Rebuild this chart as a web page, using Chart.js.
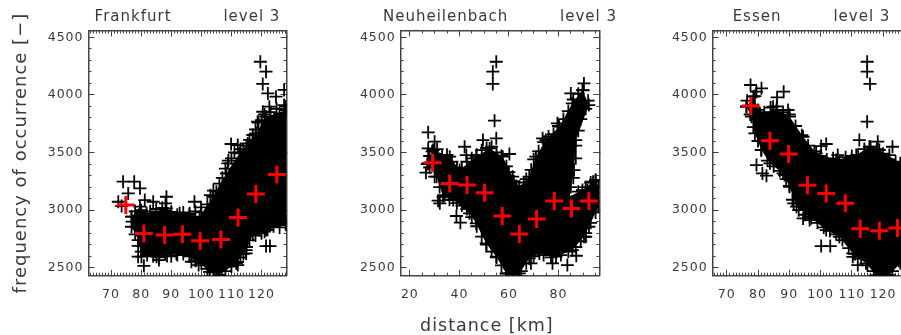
<!DOCTYPE html>
<html>
<head>
<meta charset="utf-8">
<title>level 3</title>
<script src="https://cdn.jsdelivr.net/npm/chart.js@4"></script>
<style>
html, body { margin: 0; padding: 0; background: #fff; overflow: hidden; width: 901px; height: 335px; }
canvas { position: absolute; top: 0; }
</style>
</head>
<body>
<canvas id="c1"></canvas>
<canvas id="c2"></canvas>
<canvas id="c3"></canvas>
<script>
// [distance km, frequency]
const frankfurtMeans = [[74.9,3044],[80.9,2798],[87.8,2784],[93.7,2790],[99.6,2735],[106.5,2746],[112.2,2937],[118.1,3140],[125.1,3310]];
const neuheilenbachMeans = [[29.2,3412],[36.1,3232],[43.1,3218],[50.2,3151],[57.3,2949],[64.2,2792],[71.2,2923],[78.3,3079],[85.2,3015],[92.3,3079]];
const essenMeans = [[77.7,3904],[83.8,3603],[89.8,3487],[95.8,3215],[101.8,3145],[107.9,3059],[112.7,2839],[118.8,2821],[124.6,2844]];

// edge of the solid black cloud
const frankfurtCloud = [[76.8,2943],[79.6,3030],[81.8,2972],[88.4,3015],[92.8,2972],[99.4,2943],[103.8,3116],[108.3,3319],[112.7,3493],[118.2,3666],[121.5,3811],[128.3,3869],[128.3,2870],[121.5,2827],[117.1,2784],[114.9,2653],[111.6,2538],[106.0,2436],[102.7,2465],[98.3,2567],[91.7,2624],[85.1,2596],[80.1,2596],[79.0,2740],[76.8,2856],[76.8,2943]];
const neuheilenbachCloud = [[27.4,3406],[29.4,3522],[36.1,3464],[40.1,3348],[46.8,3464],[52.2,3536],[57.5,3464],[61.5,3290],[64.2,3203],[68.2,3290],[70.9,3464],[74.9,3608],[80.3,3724],[85.6,3927],[89.7,4042],[92.3,3912],[87,3608],[86.3,3348],[84.3,3116],[89.7,3174],[95,3261],[96.1,3203],[96.1,3030],[92.3,2856],[90.3,2769],[85.6,2653],[79,2596],[72.3,2624],[68.2,2581],[64.2,2451],[58.9,2451],[54.9,2596],[50.8,2711],[46.8,2885],[44.1,2972],[37.5,3087],[33.4,3116],[30.8,3290],[27.4,3406]];
const essenCloud = [[76.3,3898],[78.5,3985],[80.6,3840],[85.9,3869],[90.1,3811],[94.4,3637],[98.6,3493],[105,3435],[111.4,3478],[115.6,3550],[118.8,3522],[125.5,3406],[128.7,3350],[128.7,2700],[125.5,2538],[122,2436],[117.7,2436],[114.5,2538],[110.3,2624],[106,2769],[101.8,2827],[96.5,2943],[92.3,3030],[90.1,3203],[88,3319],[83.8,3406],[81.1,3522],[79,3666],[77.9,3811],[76.3,3898]];

// single crosses, outliers first and then the ones along the cloud's rough edge
const frankfurtPoints = [[74,3247],[77.7,3247],[79.6,3189],[75.7,3145],[72.4,3073],[73.5,3035],[81.2,3087],[84,3073],[88.4,3116],[88.1,3058],[97.7,3073],[99.9,3024],[96.1,2972],[79,2596],[80.9,2517],[85.9,2567],[88.6,2601],[96.7,2552],[99.1,2523],[112.1,2523],[109.9,3574],[112.1,3565],[108.8,3406],[119.6,4288],[121.5,4202],[120.4,4095],[122.1,4013],[124.8,3985],[127.5,4043],[127.5,3912],[122.6,3898],[120.4,3854],[118.7,3767],[117.1,3652],[115.4,3579],[122.8,2688],[121.5,2688],[121,2813],[119.3,2827],[114.9,2624],
    [78,2990],[80,3000],[83,2990],[85,3010],[87,3020],[90,2985],[92,2960],[94,2980],[96,2960],[98,2990],[100,2980],[102,3050],[103,3130],[104,3170],[105,3160],[106,3230],[107,3280],[108,3360],[109,3430],[110,3450],[111,3500],[113,3530],[114,3510],[115,3560],[116,3610],[117,3600],[118,3700],[119,3760],[120,3780],[121,3830],[123,3850],[125,3880],[126,3840],[128,3900],
    [128,2880],[126,2850],[124,2860],[122,2830],[120,2800],[118,2780],[116,2740],[115,2680],[114,2620],[113,2590],[112,2550],[110,2510],[108,2470],[106,2440],[104,2460],[102,2490],[100,2540],[98,2560],[96,2600],[94,2620],[92,2610],[90,2600],[88,2620],[86,2590],[84,2600],[82,2610],[80,2640],[79,2690],[78,2790],[77,2900]];
const neuheilenbachPoints = [[54.9,4288],[53.5,4202],[53.5,4095],[54.2,3776],[54.9,3623],[27.4,3675],[30,3594],[27.4,3536],[42.1,3550],[42.8,3478],[49.5,3608],[60.2,3487],[26.5,3325],[31.4,3082],[32.1,3059],[38.8,2949],[40.4,2891],[68.9,2538],[77.6,2538],[83.6,2523],[87.2,2604],[91,2769],[94,3247],[91.7,3174],[90.3,4100],[85,4013],[79.6,3753],[73.6,3623],[61.5,2451],
    [27,3400],[28,3470],[29,3510],[31,3530],[33,3470],[35,3480],[37,3420],[39,3370],[41,3360],[43,3420],[45,3450],[47,3480],[49,3520],[51,3540],[53,3550],[55,3500],[57,3470],[59,3380],[60,3330],[62,3250],[63,3210],[66,3240],[67,3270],[69,3350],[70,3440],[72,3510],[74,3590],[76,3640],[78,3660],[80,3730],[82,3790],[84,3860],[86,3960],[88,4010],[90,4040],[92,3950],[91,3880],[89,3790],[88,3690],[87,3560],[87,3450],[86,3280],[85,3200],[88,3160],[91,3200],[93,3240],[95,3260],[96,3150],[96,3070],[95,2980],[93,2890],[91,2800],[89,2730],[87,2680],[84,2640],[81,2610],[77,2590],[74,2610],[70,2600],[67,2540],[65,2470],[62,2440],[59,2450],[57,2520],[55,2590],[53,2640],[51,2700],[49,2770],[47,2860],[45,2940],[43,3010],[41,3040],[39,3060],[36,3090],[34,3130],[32,3200],[30,3290],[28,3370]];
const essenPoints = [[114.9,4288],[114.9,4202],[115.8,4095],[114.9,3768],[77.6,4086],[81.1,4057],[79.5,4028],[88.2,4028],[86.1,3979],[89.6,3869],[84.8,3898],[79.5,3391],[81.4,3319],[82.7,3299],[88.5,3305],[91.4,3058],[94.4,2928],[96.5,2914],[100.2,2688],[103.1,2688],[110.3,2595],[111.9,2523],[101.8,3574],[100.2,3556],[105.5,3478],[112.4,3608],[118.3,3594],[123,3550],[122,3478],
    [76.5,3950],[79,3990],[80,3870],[82,3850],[84,3890],[86,3900],[88,3850],[90,3830],[92,3730],[94,3650],[96,3560],[98,3510],[100,3470],[102,3440],[104,3450],[106,3430],[108,3460],[110,3470],[112,3480],[114,3530],[116,3550],[118,3530],[120,3490],[122,3440],[124,3420],[126,3390],
    [125,2560],[123,2470],[121,2440],[119,2440],[117,2470],[115,2520],[113,2580],[111,2620],[109,2670],[107,2740],[105,2790],[103,2820],[101,2850],[99,2890],[97,2930],[95,2960],[93,3000],[91,3090],[90,3210],[89,3270],[87,3340],[85,3380],[83,3430],[81,3520],[80,3600],[78.5,3720],[77.5,3830]];

const yMajorTicks = [2500, 3000, 3500, 4000, 4500];
const yMinorStep = 100;
const kmTicks70 = [70, 80, 90, 100, 110, 120];
const kmTicks20 = [20, 40, 60, 80];

const yMin = 2431;
const yMax = 4559;
const inkColor = '#3a3a3a';
const boxColor = '#444';

Chart.defaults.font.family = '"DejaVu Sans"';
Chart.defaults.color = inkColor;
Chart.defaults.animation = false;

function minorTicks(min, max, step) {
    let out = [];
    for (let v = Math.ceil(min / step) * step; v <= max; v += step) out.push(v);
    return out;
}

function tickAxis(axis, position, min, max, values, length, showBox, showLabels, size) {
    return {
        type: 'linear',
        axis: axis,
        position: position,
        weight: showLabels ? 1 : 0,
        min: min,
        max: max,
        border: { display: showBox, color: boxColor, width: 1.5 },
        grid: { drawOnChartArea: false, drawTicks: true, tickLength: -length, tickColor: boxColor, tickWidth: 1 },
        ticks: {
            display: showLabels,
            autoSkip: false,
            maxRotation: 0,
            padding: axis === 'x' ? 18 : 11,
            font: { size: 12.5 },
            callback: (v) => String(v)
        },
        afterBuildTicks: (scale) => { scale.ticks = values.map((v) => ({ value: v })); },
        afterFit: (scale) => {
            if (axis === 'x') scale.height = size;
            else scale.width = size;
        }
    };
}

function drawPanel(id, conf) {
    let canvas = document.getElementById(id);
    // canvas is symmetric around the plot so the title sits centred over it
    let width = conf.plotLeft + conf.plotRight;
    canvas.style.left = conf.left + 'px';
    canvas.width = width;
    canvas.height = 335;

    let xMinors = minorTicks(conf.xMin, conf.xMax, conf.xMinor);
    let yMinors = minorTicks(yMin, yMax, yMinorStep);

    let scales = {
        x: tickAxis('x', 'bottom', conf.xMin, conf.xMax, conf.xMajor, 6, true, true, 59.3),
        xMinor: tickAxis('x', 'bottom', conf.xMin, conf.xMax, xMinors, 3, false, false, 0),
        xTop: tickAxis('x', 'top', conf.xMin, conf.xMax, conf.xMajor, 6, true, false, 0),
        xTopMinor: tickAxis('x', 'top', conf.xMin, conf.xMax, xMinors, 3, false, false, 0),
        y: tickAxis('y', 'left', yMin, yMax, yMajorTicks, 6, true, true, conf.plotLeft),
        yMinor: tickAxis('y', 'left', yMin, yMax, yMinors, 3, false, false, 0),
        yRight: tickAxis('y', 'right', yMin, yMax, yMajorTicks, 6, true, false, 0),
        // outermost right axis holds the empty space right of the plot
        yRightMinor: tickAxis('y', 'right', yMin, yMax, yMinors, 3, false, false, width - conf.plotRight)
    };
    scales.yRightMinor.weight = 1;
    if (conf.yTitle) {
        scales.y.title = { display: true, text: conf.yTitle, font: { size: 18 }, padding: { top: 11, bottom: 0 } };
    }
    if (conf.xTitle) {
        scales.x.title = { display: true, text: conf.xTitle, font: { size: 17.5, lineHeight: 1 }, padding: 0 };
    }

    new Chart(canvas, {
        type: 'scatter',
        data: {
            datasets: [{
                data: conf.means,
                pointStyle: 'cross',
                pointRadius: 9,
                pointBorderWidth: 3,
                pointBorderColor: '#ff0000',
                showLine: false
            }, {
                data: conf.points,
                pointStyle: 'cross',
                pointRadius: 6.5,
                pointBorderWidth: 1.8,
                pointBorderColor: '#000',
                showLine: false
            }, {
                data: conf.cloud,
                pointStyle: 'cross',
                pointRadius: 6.5,
                pointBorderWidth: 1.8,
                pointBorderColor: '#000',
                showLine: true,
                borderWidth: 0,
                backgroundColor: '#000',
                fill: 'shape'
            }]
        },
        options: {
            responsive: false,
            scales: scales,
            plugins: {
                legend: { display: false },
                tooltip: { enabled: false },
                title: {
                    display: true,
                    text: conf.title,
                    color: inkColor,
                    font: { size: 15, weight: 'normal' },
                    padding: { top: 8, bottom: 4.5 }
                }
            }
        },
        plugins: [{
            id: 'spacing',
            beforeUpdate: (chart) => { chart.ctx.letterSpacing = '1px'; },
            beforeDraw: (chart) => { chart.ctx.letterSpacing = '1px'; }
        }]
    });
}

drawPanel('c1', {
    left: 0, plotLeft: 88.5, plotRight: 287,
    xMin: 62.5, xMax: 128.3, xMajor: kmTicks70, xMinor: 1,
    title: 'Frankfurt         level 3',
    yTitle: 'frequency of occurrence [\u2212]',
    means: frankfurtMeans, points: frankfurtPoints, cloud: frankfurtCloud
});
drawPanel('c2', {
    left: 310, plotLeft: 90.7, plotRight: 289.3,
    xMin: 16.3, xMax: 96.5, xMajor: kmTicks20, xMinor: 5,
    title: 'Neuheilenbach         level 3',
    xTitle: 'distance [km]    ',
    means: neuheilenbachMeans, points: neuheilenbachPoints, cloud: neuheilenbachCloud
});
drawPanel('c3', {
    left: 640, plotLeft: 72.7, plotRight: 271.2,
    xMin: 65.5, xMax: 128.7, xMajor: kmTicks70, xMinor: 1,
    title: 'Essen         level 3',
    means: essenMeans, points: essenPoints, cloud: essenCloud
});
</script>
</body>
</html>
